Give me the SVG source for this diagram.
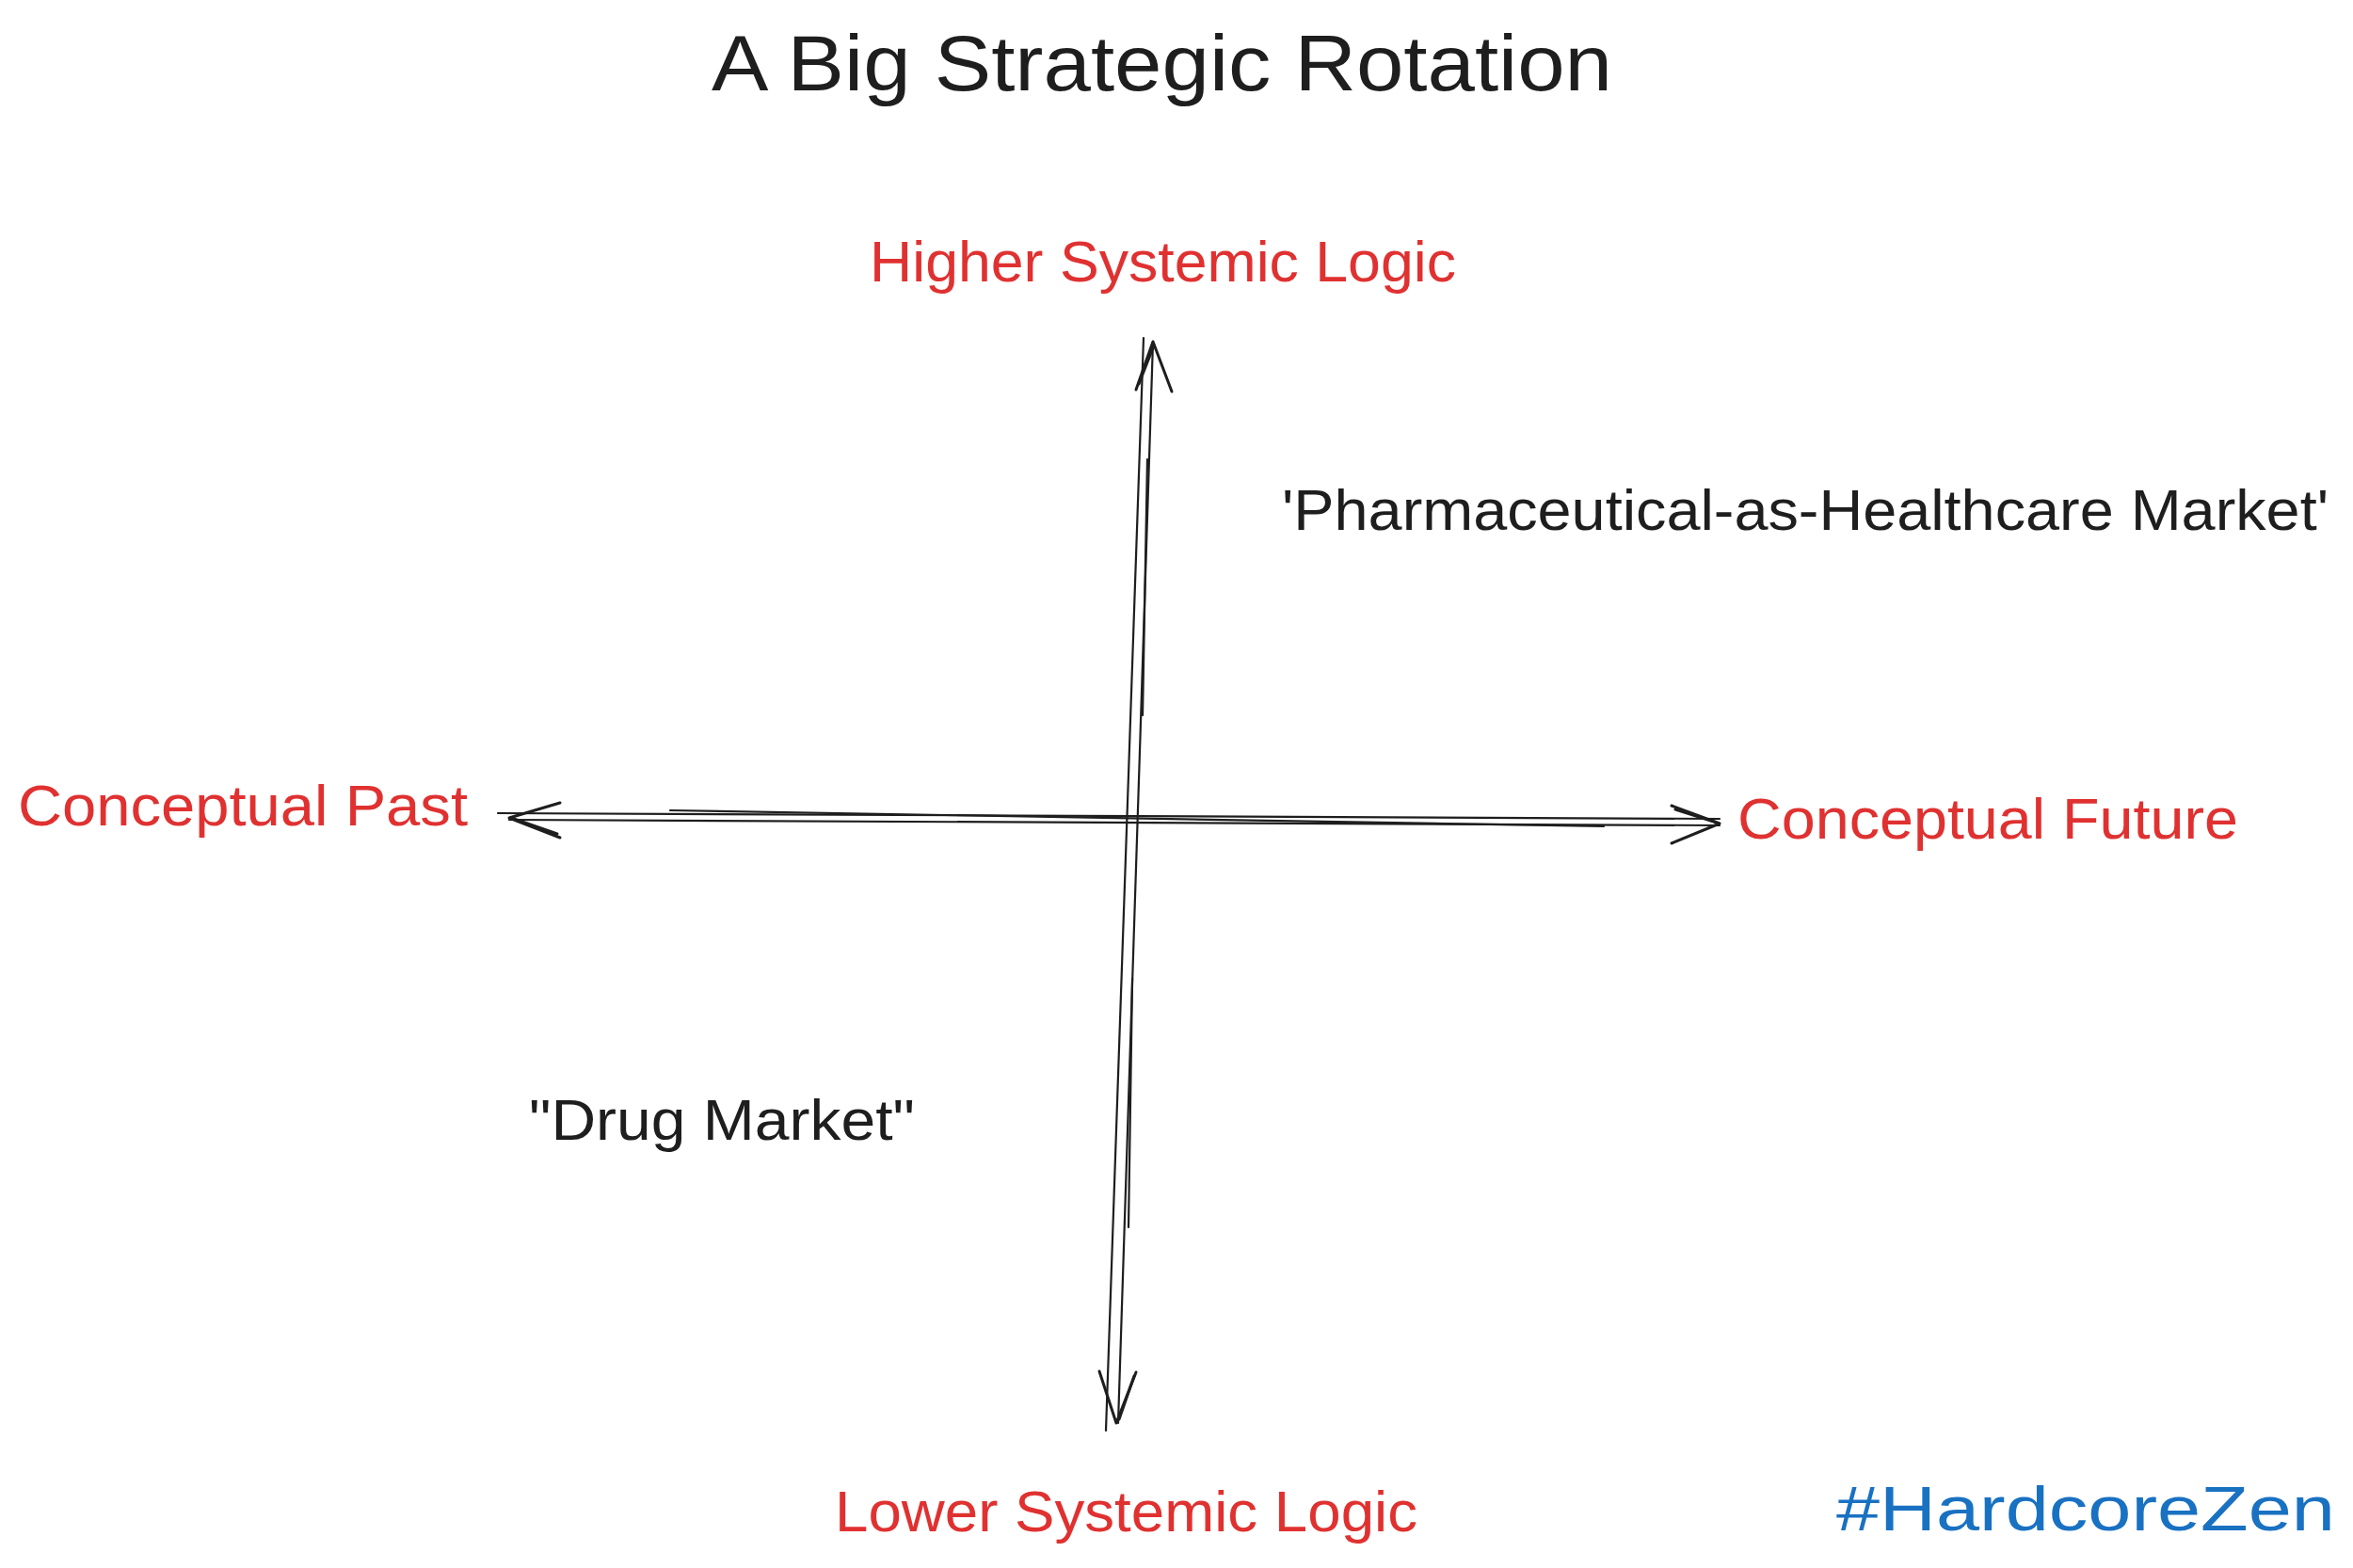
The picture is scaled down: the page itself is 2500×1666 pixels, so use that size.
<svg xmlns="http://www.w3.org/2000/svg" width="2500" height="1666" viewBox="0 0 2500 1666">
<style>
.t{font-family:"Liberation Sans","Noto Sans",Arial,sans-serif;}
.title{font-size:84px;fill:#1e1e1e;}
.red{font-size:62px;fill:#e03131;}
.blk{font-size:62px;fill:#1e1e1e;}
.blue{font-size:66px;fill:#1971c2;}
.ax{fill:none;stroke:#1e1e1e;stroke-width:2.2;stroke-linecap:round;stroke-linejoin:round;}
.hd{fill:none;stroke:#1e1e1e;stroke-width:3;stroke-linecap:round;stroke-linejoin:round;}
</style>
<rect width="2500" height="1666" fill="#ffffff"/>
<g id="title"><text class="t title" x="756" y="96" textLength="957" lengthAdjust="spacingAndGlyphs">A Big Strategic Rotation</text></g>
<g id="higher"><text class="t red" x="924" y="299" textLength="623" lengthAdjust="spacingAndGlyphs">Higher Systemic Logic</text></g>
<g id="pharma"><text class="t blk" x="1362" y="563" textLength="1112" lengthAdjust="spacingAndGlyphs">'Pharmaceutical-as-Healthcare Market'</text></g>
<g id="past"><text class="t red" x="19" y="877" textLength="478" lengthAdjust="spacingAndGlyphs">Conceptual Past</text></g>
<g id="future"><text class="t red" x="1846" y="891" textLength="532" lengthAdjust="spacingAndGlyphs">Conceptual Future</text></g>
<g id="drug"><text class="t blk" x="562" y="1211" textLength="410" lengthAdjust="spacingAndGlyphs">"Drug Market"</text></g>
<g id="lower"><text class="t red" x="887" y="1627" textLength="619" lengthAdjust="spacingAndGlyphs">Lower Systemic Logic</text></g>
<g id="tag"><text class="t blue" x="1951" y="1626" textLength="530" lengthAdjust="spacingAndGlyphs">#HardcoreZen</text></g>
<g id="connectors">
<path class="ax" d="M1215,359 L1175,1520"/>
<path class="ax" d="M1225,363 L1188,1512"/>
<path class="ax" d="M1219,488 L1214,760"/>
<path class="ax" d="M1199,1304 L1203,1040"/>
<path class="hd" d="M1207,414 L1225,363 L1245,416"/>
<path class="hd" d="M1210,408 L1226,367"/>
<path class="hd" d="M1168,1457 L1186,1512 L1207,1458"/>
<path class="hd" d="M1205,1462 L1189,1508"/>
<path class="ax" d="M529,864 L1827,870"/>
<path class="ax" d="M541,871 L1827,877"/>
<path class="ax" d="M712,861 L1704,878"/>
<path class="hd" d="M595,853 L541,869 L595,890"/>
<path class="hd" d="M592,886 L546,870"/>
<path class="hd" d="M1776,856 L1827,875 L1776,896"/>
<path class="hd" d="M1780,860 L1824,874"/>
</g>
</svg>
